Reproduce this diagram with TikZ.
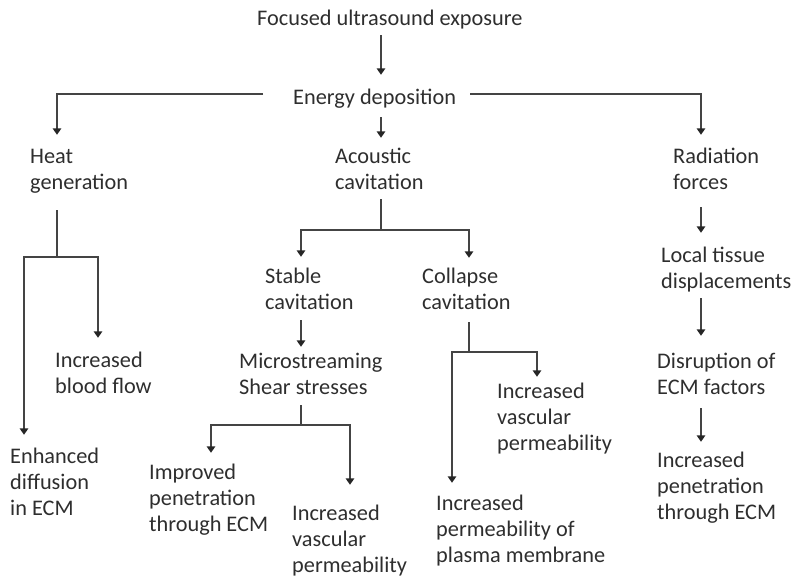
\documentclass[tikz,border=0pt]{standalone}
\usepackage{fontspec}
\setmainfont{Carlito}
\usetikzlibrary{arrows.meta}
\definecolor{txt}{HTML}{2E2E2E}
\definecolor{lnc}{HTML}{444444}
\newcommand\mlx[1]{\begin{tabular}[t]{@{}l@{}}#1\end{tabular}}
\begin{document}
\begin{tikzpicture}[x=1pt,y=-1pt,
  lbl/.style={anchor=base west,inner sep=0pt,text=txt,font=\fontsize{22.3}{26}\selectfont},
  ln/.style={draw=lnc,line width=1.7pt},
  arr/.style={ln,-{Triangle[width=8.5pt,length=6.5pt,color=black!85]}}]
\useasboundingbox (0,0) rectangle (791,576);
% nodes
\node[lbl] (focus) at (257,25) {\mlx{Focused ultrasound exposure}};
\node[lbl] (energy) at (293,104) {\mlx{Energy deposition}};
\node[lbl] (heat) at (30,163) {\mlx{Heat\\generation}};
\node[lbl] (acoustic) at (335,163) {\mlx{Acoustic\\cavitation}};
\node[lbl] (radiation) at (673,163) {\mlx{Radiation\\forces}};
\node[lbl] (stable) at (265,283) {\mlx{Stable\\cavitation}};
\node[lbl] (collapse) at (422,283) {\mlx{Collapse\\cavitation}};
\node[lbl] (local) at (661,262) {\mlx{Local tissue\\displacements}};
\node[lbl] (blood) at (55,367) {\mlx{Increased\\blood flow}};
\node[lbl] (micro) at (239,368) {\mlx{Microstreaming\\Shear stresses}};
\node[lbl] (disrupt) at (657,368) {\mlx{Disruption of\\ECM factors}};
\node[lbl] (vascR) at (497,398) {\mlx{Increased\\vascular\\permeability}};
\node[lbl] (enh) at (10,463) {\mlx{Enhanced\\diffusion\\in ECM}};
\node[lbl] (pen) at (657,467) {\mlx{Increased\\penetration\\through ECM}};
\node[lbl] (improved) at (149,479) {\mlx{Improved\\penetration\\through ECM}};
\node[lbl] (plasma) at (436,510) {\mlx{Increased\\permeability of\\plasma membrane}};
\node[lbl] (vascL) at (292,520) {\mlx{Increased\\vascular\\permeability}};
% columns and junctions
\coordinate (cA) at (381,0);
\coordinate (cH) at (57,0);
\coordinate (cR) at (701,0);
\coordinate (cHL) at (24,0);
\coordinate (cHR) at (98,0);
\coordinate (cS) at (301,0);
\coordinate (cC) at (469,0);
\coordinate (cML) at (211,0);
\coordinate (cMR) at (350,0);
\coordinate (cCL) at (452,0);
\coordinate (cCR) at (537,0);
\coordinate (eL) at (263,94);
\coordinate (eR) at (470,94);
\coordinate (jH) at (57,257);
\coordinate (jA) at (381,230);
\coordinate (jM) at (301,425);
\coordinate (jC) at (469,352);
% connectors
\draw[arr,shorten <=2.2pt,shorten >=10.8pt] (focus.south -| cA) -- (energy.north -| cA);
\draw[arr,shorten <=5.2pt,shorten >=6.8pt] (energy.south -| cA) -- (acoustic.north -| cA);
\draw[arr,shorten >=9.8pt] (eL) -| (heat.north -| cH);
\draw[arr,shorten >=9.8pt] (eR) -| (radiation.north -| cR);
\draw[ln,shorten <=13.2pt] (heat.south -| cH) -- (jH);
\draw[arr,shorten >=9.8pt] (jH) -| (enh.north -| cHL);
\draw[arr,shorten >=10.8pt] (jH) -| (blood.north -| cHR);
\draw[ln,shorten <=2.2pt] (acoustic.south -| cA) -- (jA);
\draw[arr,shorten >=7.8pt] (jA) -| (stable.north -| cS);
\draw[arr,shorten >=6.8pt] (jA) -| (collapse.north -| cC);
\draw[arr,shorten <=3.2pt,shorten >=2.8pt] (stable.south -| cS) -- (micro.north -| cS);
\draw[ln,shorten <=3.2pt] (micro.south -| cS) -- (jM);
\draw[arr,shorten >=7.8pt] (jM) -| (improved.north -| cML);
\draw[arr,shorten >=16.8pt] (jM) -| (vascL.north -| cMR);
\draw[ln,shorten <=5.2pt] (collapse.south -| cC) -- (jC);
\draw[arr,shorten >=2.8pt] (jC) -| (vascR.north -| cCR);
\draw[arr,shorten >=8.8pt] (jC) -| (plasma.north -| cCL);
\draw[arr,shorten <=10.2pt,shorten >=10.8pt] (radiation.south -| cR) -- (local.north -| cR);
\draw[arr,shorten <=2.2pt,shorten >=13.8pt] (local.south -| cR) -- (disrupt.north -| cR);
\draw[arr,shorten <=6.2pt,shorten >=6.8pt] (disrupt.south -| cR) -- (pen.north -| cR);
\end{tikzpicture}
\end{document}
